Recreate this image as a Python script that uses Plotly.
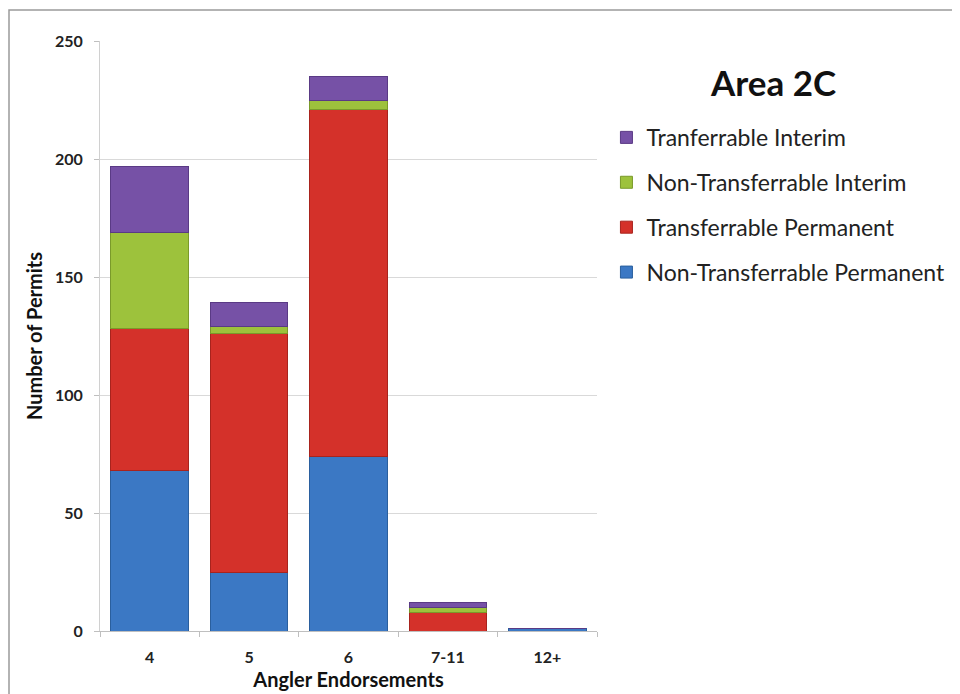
import plotly.graph_objects as go

categories = ["4", "5", "6", "7-11", "12+"]
non_transferrable_permanent = [68, 25, 74, 0, 1]
transferrable_permanent = [60, 101, 147, 8, 0]
non_transferrable_interim = [41, 3, 4, 2, 0]
tranferrable_interim = [28, 10, 10, 2, 0]

series_names = ["Non-Transferrable Permanent", "Transferrable Permanent",
                "Non-Transferrable Interim", "Tranferrable Interim"]
series_values = [non_transferrable_permanent, transferrable_permanent,
                 non_transferrable_interim, tranferrable_interim]
series_colors = ["#3b78c4", "#d4312a", "#9dc23c", "#7651a6"]
series_lines = ["#2a5f9e", "#a8231d", "#7a9a2a", "#5a3a85"]
legend_ranks = [4, 3, 2, 1]

FONT = "Lato"

# the page body adds an 8px offset; figure sized/margined to compensate
W, H = 952, 686
ML, MT, MR, MB = 92, 33, 363, 63
PW = W - ML - MR
PH = H - MT - MB

fig = go.Figure()
for name, vals, col, lc, rk in zip(series_names, series_values, series_colors, series_lines, legend_ranks):
    fig.add_trace(go.Bar(
        x=categories, y=vals, name=name, legendgroup=name, legendrank=rk,
        marker=dict(color=col, line=dict(color=lc, width=1)),
    ))

fig.update_layout(
    width=W, height=H,
    barmode="stack", bargap=0.22,
    paper_bgcolor="white", plot_bgcolor="white",
    margin=dict(l=ML, r=MR, t=MT, b=MB, autoexpand=False),
    font=dict(family=FONT, color="#222222"),
    legend=dict(
        x=1.019, xanchor="left", y=0.873, yanchor="top",
        traceorder="grouped", tracegroupgap=12,
        font=dict(family=FONT, size=23, color="#222222"),
        itemwidth=30,
    ),
    annotations=[dict(
        text="<b>Area 2C</b>", xref="paper", yref="paper",
        x=(765 - ML) / PW, y=(623 - 74) / PH, xanchor="center", yanchor="middle",
        showarrow=False, font=dict(family=FONT, size=35, color="#111111"),
    )],
)

fig.update_yaxes(
    range=[0, 250], dtick=50,
    showgrid=True, gridcolor="#d9d9d9", gridwidth=1,
    showline=True, linecolor="#d0d0d0", linewidth=1,
    ticks="outside", ticklen=5, tickcolor="#bfbfbf",
    ticklabelstandoff=8,
    tickfont=dict(family=FONT, size=16, color="#222222", weight="bold"),
    title=dict(text="<b>Number of Permits</b>", font=dict(family=FONT, size=20, color="#111111"), standoff=6),
    zeroline=False,
)
fig.update_xaxes(
    showline=True, linecolor="#bfbfbf", linewidth=1,
    ticks="outside", ticklen=5, tickcolor="#bfbfbf", tickson="boundaries",
    ticklabelstandoff=12,
    tickfont=dict(family=FONT, size=16, color="#222222", weight="bold"),
    title=dict(text="<b>Angler Endorsements</b>", font=dict(family=FONT, size=20, color="#111111"), standoff=7),
)

# outer frame
fig.add_shape(type="rect", xref="paper", yref="paper",
              x0=(1 - ML) / PW, x1=(947 - ML) / PW,
              y0=(623 - 700) / PH, y1=(623 - 2) / PH,
              line=dict(color="#9a9a9a", width=1.5), fillcolor="rgba(0,0,0,0)", layer="below")

fig.write_html("out.html")
